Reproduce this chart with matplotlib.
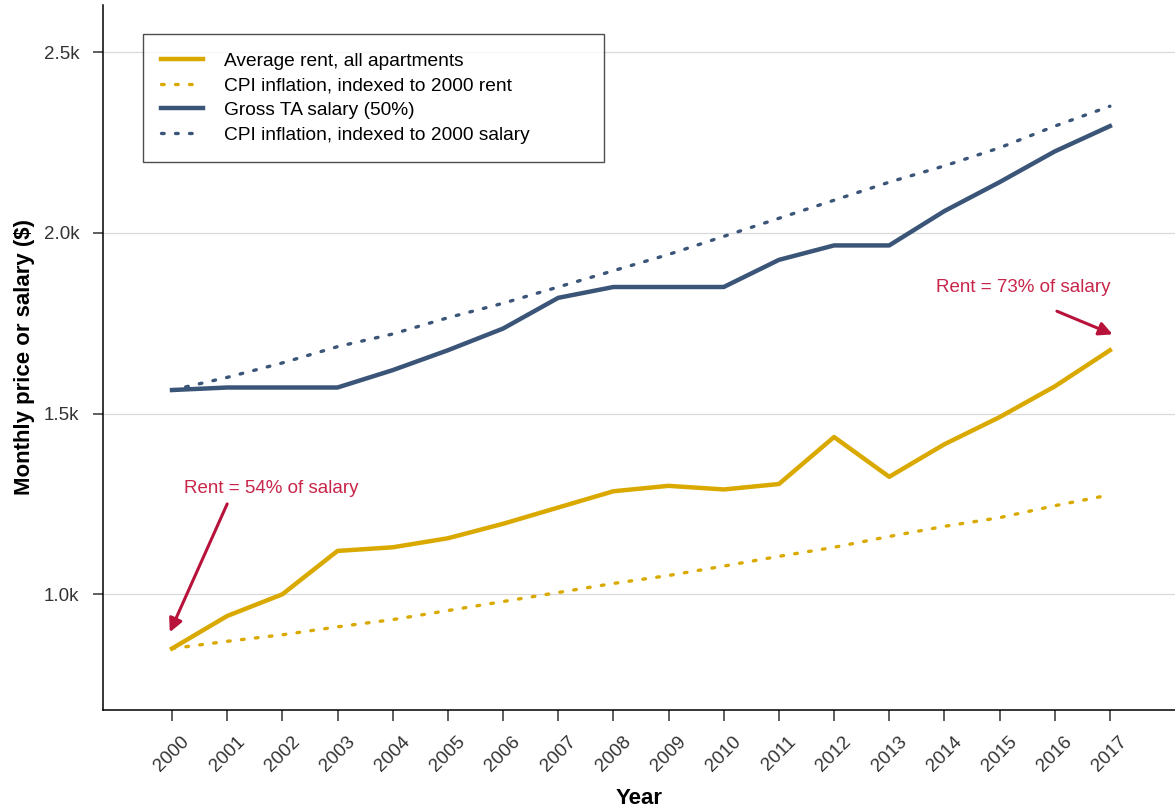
import numpy as np
import matplotlib
matplotlib.use("Agg")
import matplotlib.pyplot as plt
from matplotlib.ticker import FuncFormatter

plt.rcParams['font.family'] = ['Liberation Sans', 'DejaVu Sans']

# Data (monthly $)
years = list(range(2000, 2018))
rent = [850, 940, 1000, 1120, 1130, 1155, 1195, 1240, 1285, 1300,
        1290, 1305, 1435, 1325, 1415, 1490, 1575, 1675]
cpi_rent = [850, 870, 888, 910, 930, 955, 980, 1005, 1030, 1052,
            1078, 1105, 1130, 1160, 1188, 1212, 1245, 1275]
salary = [1565, 1572, 1572, 1572, 1620, 1675, 1735, 1820, 1850, 1850,
          1850, 1925, 1965, 1965, 2060, 2140, 2225, 2295]
cpi_salary = [1565, 1600, 1640, 1685, 1720, 1765, 1805, 1850, 1895, 1940,
              1990, 2040, 2090, 2140, 2185, 2235, 2295, 2350]

gold = '#DAA900'
navy = '#3B5578'
crimson = '#B8123A'
note_color = '#C8254A'
dots = (0, (0.8, 3.4))

fig = plt.figure(figsize=(11.75, 8.08), dpi=100)
ax = fig.add_axes([0.0877, 0.1213, 0.9123, 0.8725])

ax.plot(years, rent, color=gold, lw=3.2, label='Average rent, all apartments')
ax.plot(years, cpi_rent, color=gold, lw=2.4, ls=dots,
        dash_capstyle='round', label='CPI inflation, indexed to 2000 rent')
ax.plot(years, salary, color=navy, lw=3.2, label='Gross TA salary (50%)')
ax.plot(years, cpi_salary, color=navy, lw=2.4, ls=dots,
        dash_capstyle='round', label='CPI inflation, indexed to 2000 salary')

# annotations: arrow + label
arrow = dict(arrowstyle='-|>', color=crimson, lw=2.2, mutation_scale=20,
             shrinkA=0, shrinkB=0)
ax.annotate('', xy=(1999.96, 895), xytext=(2001.0, 1250), arrowprops=arrow)
ax.text(2001.8, 1292, 'Rent = 54% of salary', color=note_color,
        fontsize=13.5, ha='center', va='center')
ax.annotate('', xy=(2017.05, 1719), xytext=(2016.04, 1783), arrowprops=arrow)
ax.text(2015.43, 1849, 'Rent = 73% of salary', color=note_color,
        fontsize=13.5, ha='center', va='center')

ax.set_xlim(1998.75, 2018.18)
ax.set_ylim(680, 2630)
ax.set_xticks(years)
ax.set_xticklabels([str(y) for y in years], rotation=45, ha='center',
                   fontsize=13.5, color='#333333')
ax.set_yticks([1000, 1500, 2000, 2500])
ax.yaxis.set_major_formatter(FuncFormatter(lambda v, p: f'{v/1000:.1f}k'))
ax.tick_params(axis='y', labelsize=13.5, labelcolor='#333333', length=7,
               width=1.1, pad=10, color='#333333')
ax.tick_params(axis='x', length=8, width=1.1, pad=9, color='#333333')
ax.grid(axis='y', color='#d9d9d9', lw=0.9)
ax.set_axisbelow(True)
for s in ['top', 'right']:
    ax.spines[s].set_visible(False)
ax.spines['left'].set_linewidth(1.1)
ax.spines['bottom'].set_linewidth(1.1)

ax.set_xlabel('Year', fontsize=16, fontweight='bold', labelpad=9)
ax.set_ylabel('Monthly price or salary ($)', fontsize=16, fontweight='bold',
              labelpad=6)

leg = ax.legend(loc='upper left', bbox_to_anchor=(0.0373, 0.5, 0.430, 0.459),
                mode='expand', fontsize=13.8, frameon=True, fancybox=False,
                edgecolor='#222222', handlelength=2.2, borderpad=0.95,
                labelspacing=0.38, handletextpad=1.1, borderaxespad=0)
leg.get_frame().set_linewidth(1.0)

fig.savefig('out.png', dpi=100)
